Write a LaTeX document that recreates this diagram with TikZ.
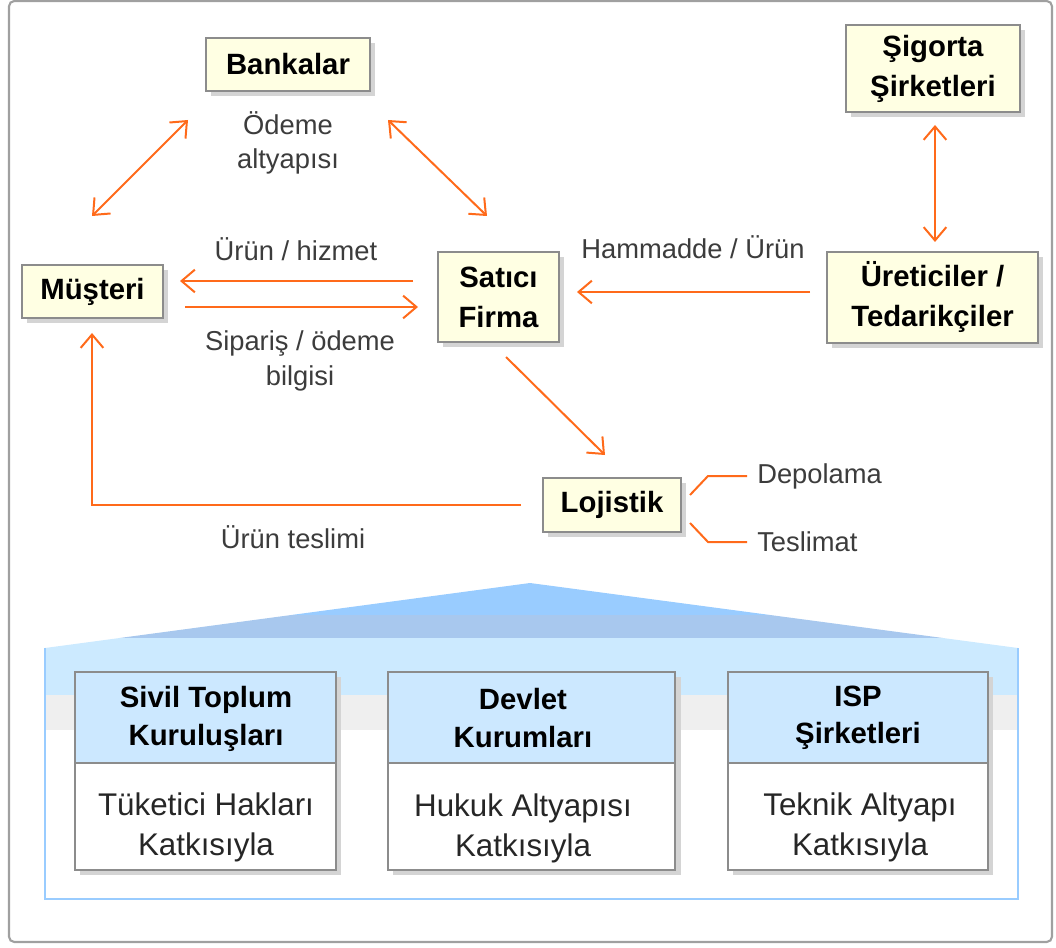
\documentclass[tikz,border=0pt]{standalone}
\usepackage{fontspec}
\setmainfont{Liberation Sans}
\usetikzlibrary{arrows.meta}
\definecolor{arr}{HTML}{FF6A1A}
\definecolor{cream}{HTML}{FFFFE3}
\definecolor{bordergray}{HTML}{8C8C8C}
\definecolor{shade}{HTML}{D4D4D4}
\definecolor{lbl}{HTML}{3C3C3C}
\definecolor{roof}{HTML}{99CCFF}
\definecolor{roofband}{HTML}{A8C8EE}
\definecolor{paleblue}{HTML}{CCEAFF}
\definecolor{hdrblue}{HTML}{CCE8FF}
\definecolor{palegray}{HTML}{EFEFEF}
\definecolor{framegray}{HTML}{A0A0A0}
\tikzset{
  ybox/.style={draw=bordergray, line width=1.5pt, fill=cream, inner sep=0pt, align=center,
    font=\fontsize{22}{30}\selectfont\bfseries, text=black},
  hdrbox/.style={draw=bordergray, line width=1.5pt, fill=hdrblue, inner sep=0pt, align=center,
    font=\fontsize{22}{28}\selectfont\bfseries, text=black},
  bodybox/.style={draw=bordergray, line width=1.5pt, fill=white, inner sep=0pt},
  bodytext/.style={inner sep=0pt, align=center, font=\fontsize{23.5}{30}\selectfont, text=black!85},
  lab/.style={inner sep=0pt, align=center, font=\fontsize{20.5}{26}\selectfont, text=lbl},
  conn/.style={draw=arr, line width=1.5pt},
  oneway/.style={conn, -{Straight Barb[length=10pt,width=17pt,line width=1.5pt]}},
  twoway/.style={conn, {Straight Barb[length=10pt,width=17pt,line width=1.5pt]}-{Straight Barb[length=10pt,width=17pt,line width=1.5pt]}},
  shadowrect/.style={fill=shade}
}
\begin{document}
\begin{tikzpicture}[x=0.75pt,y=-0.75pt]
\useasboundingbox (0,0) rectangle (1056,948);
% outer frame
\draw[framegray, line width=1.6pt, rounded corners=4pt] (9,1) rectangle (1052,942);

% ---------- bottom pentagon (roof) ----------
\begin{scope}
\clip (45,899) -- (45,648) -- (530,583) -- (1018,648) -- (1018,899) -- cycle;
\fill[roof] (40,575) rectangle (1025,615);
\fill[roofband] (40,615) rectangle (1025,638);
\fill[paleblue] (40,638) rectangle (1025,695);
\fill[palegray] (40,695) rectangle (1025,730);
\fill[white] (40,730) rectangle (1025,905);
\end{scope}
\draw[roof, line width=1.5pt] (45,648) -- (45,899) -- (1018,899) -- (1018,648);

% ---------- bottom boxes ----------
\fill[shadowrect] (80,677) rectangle (341,875);
\fill[shadowrect] (393,677) rectangle (681,875);
\fill[shadowrect] (733,677) rectangle (993,875);

\node[hdrbox, minimum width=195.75pt, minimum height=68.25pt] (h1) at (205.5,717.5) {};
\node[bodybox, minimum width=195.75pt, minimum height=80.25pt] (b1) at (205.5,816.5) {};
\node[hdrbox, minimum width=215.25pt, minimum height=68.25pt] (h2) at (531.5,717.5) {};
\node[bodybox, minimum width=215.25pt, minimum height=80.25pt] (b2) at (531.5,816.5) {};
\node[hdrbox, minimum width=195pt, minimum height=68.25pt] (h3) at (858,717.5) {};
\node[bodybox, minimum width=195pt, minimum height=80.25pt] (b3) at (858,816.5) {};

\node[hdrbox, draw=none, fill=none] (h1t) at (206,719) {Sivil Toplum\\Kuruluşları};
\node[hdrbox, draw=none, fill=none] (h2t) at (523,718) {Devlet\\Kurumları};
\node[hdrbox, draw=none, fill=none] (h3t) at (858,718) {ISP\\Şirketleri};
\node[bodytext] (b1t) at (206,827) {Tüketici Hakları\\Katkısıyla};
\node[bodytext] (b2t) at (523,828) {Hukuk Altyapısı\\Katkısıyla};
\node[bodytext] (b3t) at (860,827) {Teknik Altyapı\\Katkısıyla};

% ---------- top boxes ----------
\fill[shadowrect] (211,43) rectangle (375,96);
\fill[shadowrect] (27,270) rectangle (168,323);
\fill[shadowrect] (443,257) rectangle (564,347);
\fill[shadowrect] (832,257) rectangle (1043,348);
\fill[shadowrect] (851,30) rectangle (1025,117);
\fill[shadowrect] (548,483) rectangle (686,537);

\node[ybox, minimum width=123pt, minimum height=39.75pt] (bank) at (288,64.5) {Bankalar};
\node[ybox, minimum width=105.75pt, minimum height=39.75pt] (must) at (92.5,291.5) {Müşteri};
\node[ybox, minimum width=90.75pt, minimum height=67.5pt] (sat) at (498.5,297) {Satıcı\\Firma};
\node[ybox, minimum width=158.25pt, minimum height=68.25pt] (uret) at (932.5,297.5) {Üreticiler /\\Tedarikçiler};
\node[ybox, minimum width=130.5pt, minimum height=65.25pt] (sig) at (933,68.5) {Şigorta\\Şirketleri};
\node[ybox, minimum width=103.5pt, minimum height=40.5pt] (loj) at (612,505) {Lojistik};

% ---------- connector end points ----------
\coordinate (bmA) at (92,216);
\coordinate (bmB) at (188,120);
\coordinate (bsA) at (388,120);
\coordinate (bsB) at (487,216);
\coordinate (uhA) at (413,281);
\coordinate (uhB) at (180,281);
\coordinate (spA) at (185,307);
\coordinate (spB) at (418,307);
\coordinate (hmA) at (810,292);
\coordinate (hmB) at (577,292);
\coordinate (sgA) at (935,125);
\coordinate (sgB) at (935,242);
\coordinate (slA) at (506,357);
\coordinate (slB) at (605,455);
\coordinate (utA) at (521,505);
\coordinate (utK) at (92,505);
\coordinate (utB) at (92,333);
\coordinate (dpA) at (690,495);
\coordinate (dpK) at (708,476);
\coordinate (dpB) at (747,476);
\coordinate (tsA) at (690,523);
\coordinate (tsK) at (708,542);
\coordinate (tsB) at (747,542);

% ---------- connectors ----------
\draw[twoway] (bmA) -- (bmB);
\draw[twoway] (bsA) -- (bsB);
\draw[oneway] (uhA) -- (uhB);
\draw[oneway] (spA) -- (spB);
\draw[oneway] (hmA) -- (hmB);
\draw[twoway] (sgA) -- (sgB);
\draw[oneway] (slA) -- (slB);
\draw[oneway] (utA) -- (utK) -- (utB);
\draw[conn] (dpA) -- (dpK) -- (dpB);
\draw[conn] (tsA) -- (tsK) -- (tsB);

% ---------- labels ----------
\node[lab] (odeme) at (288,143) {Ödeme\\altyapısı};
\node[lab] (urunh) at (296,249) {Ürün / hizmet};
\node[lab] (sipar) at (300,361) {Sipariş / ödeme\\bilgisi};
\node[lab] (hamm) at (693,247) {Hammadde / Ürün};
\node[lab] (urunt) at (293,537) {Ürün teslimi};
\node[lab, anchor=west] (depo) at (757,476) {Depolama};
\node[lab, anchor=west] (tesl) at (757,542) {Teslimat};
\end{tikzpicture}
\end{document}
